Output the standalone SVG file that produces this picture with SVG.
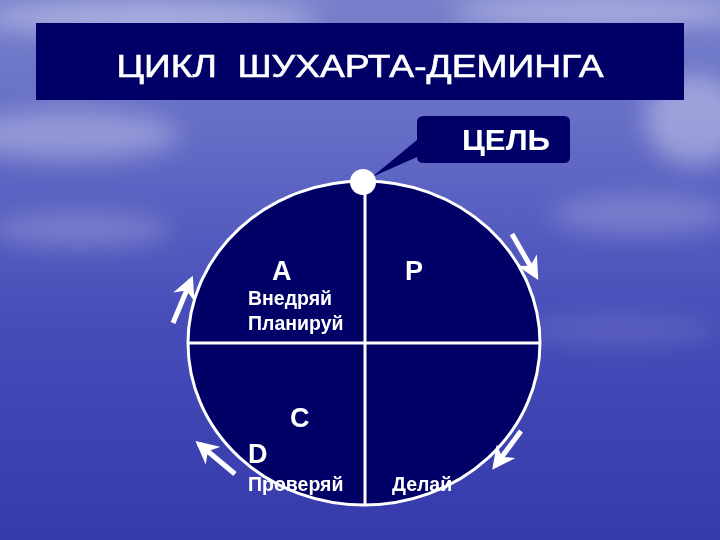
<svg xmlns="http://www.w3.org/2000/svg" width="720" height="540" viewBox="0 0 720 540">
  <defs>
    <linearGradient id="bg" x1="0" y1="0" x2="0" y2="1">
      <stop offset="0" stop-color="#7880cc"/>
      <stop offset="0.3" stop-color="#6068c4"/>
      <stop offset="0.6" stop-color="#464cb8"/>
      <stop offset="1" stop-color="#363aac"/>
    </linearGradient>
    <filter id="blur" x="-50%" y="-50%" width="200%" height="200%">
      <feGaussianBlur stdDeviation="12"/>
    </filter>
    <marker id="ah" viewBox="0 0 10 10" refX="8" refY="5" markerWidth="4.6" markerHeight="4.6" orient="auto">
      <path d="M0,0 L10,5 L0,10 L3,5 Z" fill="#ffffff"/>
    </marker>
    <style>
      .navy { fill: #000066; }
      .t { font-family: "Liberation Sans", Arial, sans-serif; fill: #ffffff; }
      .big { font-size: 27px; font-weight: bold; }
      .small { font-size: 19.5px; font-weight: bold; }
      .ln { stroke: #ffffff; stroke-width: 3; fill: none; }
      .arr { stroke: #ffffff; stroke-width: 5; fill: none; marker-end: url(#ah); }
    </style>
  </defs>
  <rect x="0" y="0" width="720" height="540" fill="url(#bg)"/>
  <g filter="url(#blur)" fill="#ffffff">
    <ellipse cx="150" cy="18" rx="170" ry="16" opacity="0.4"/>
    <ellipse cx="600" cy="12" rx="150" ry="14" opacity="0.4"/>
    <ellipse cx="695" cy="120" rx="50" ry="45" opacity="0.35"/>
    <ellipse cx="70" cy="135" rx="110" ry="25" opacity="0.3"/>
    <ellipse cx="640" cy="215" rx="90" ry="20" opacity="0.2"/>
    <ellipse cx="80" cy="230" rx="90" ry="18" opacity="0.2"/>
    <ellipse cx="620" cy="330" rx="100" ry="15" opacity="0.12"/>
  </g>

  <g id="title">
    <rect x="36" y="23" width="648" height="77" class="navy"/>
    <text x="360" y="77" class="t" font-size="32" text-anchor="middle" stroke="#ffffff" stroke-width="0.6" textLength="487" lengthAdjust="spacingAndGlyphs" xml:space="preserve" style="white-space:pre">ЦИКЛ  ШУХАРТА-ДЕМИНГА</text>
  </g>

  <g id="cycle">
    <ellipse cx="364" cy="343" rx="176" ry="162" class="navy" stroke="#ffffff" stroke-width="3"/>
    <line x1="365" y1="182" x2="365" y2="505" class="ln"/>
    <line x1="188" y1="343" x2="540" y2="343" class="ln"/>
  </g>

  <g id="goal">
    <path d="M424,116 H564 Q570,116 570,122 V157 Q570,163 564,163 H424 Q417,163 417,157 L372,177 L417,140 V122 Q417,116 424,116 Z" class="navy"/>
    <text x="462" y="150" class="t" font-size="29" font-weight="bold" textLength="88" lengthAdjust="spacingAndGlyphs">ЦЕЛЬ</text>
    <circle cx="363" cy="182" r="13" fill="#ffffff"/>
  </g>

  <g id="quadrant-A">
    <text x="272" y="280" class="t big">A</text>
    <text x="248" y="305" class="t small">Внедряй</text>
    <text x="248" y="330" class="t small">Планируй</text>
  </g>
  <g id="quadrant-P">
    <text x="405" y="280" class="t big">P</text>
  </g>
  <g id="quadrant-C">
    <text x="290" y="427" class="t big">C</text>
    <text x="248" y="463" class="t big">D</text>
    <text x="248" y="491" class="t small">Проверяй</text>
  </g>
  <g id="quadrant-D">
    <text x="392" y="491" class="t small">Делай</text>
  </g>

  <g id="connectors">
    <line x1="173" y1="323" x2="191" y2="280" class="arr"/>
    <line x1="512" y1="234" x2="536" y2="276" class="arr"/>
    <line x1="521" y1="431" x2="495" y2="466" class="arr"/>
    <line x1="235" y1="474" x2="199" y2="444" class="arr"/>
  </g>
</svg>
